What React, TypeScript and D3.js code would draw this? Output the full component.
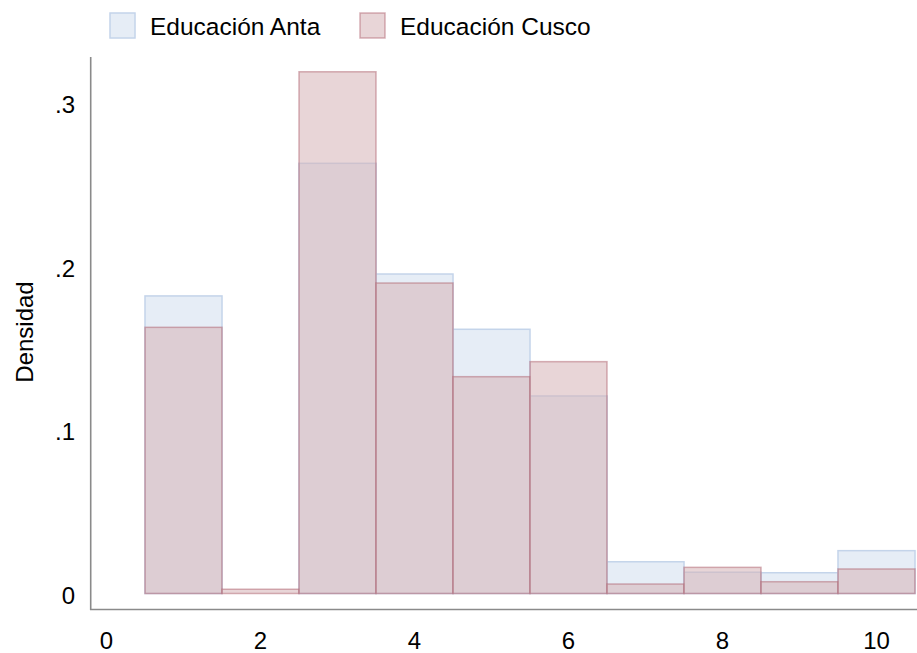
import React from "react";
import * as d3 from "d3";

const categories = [1, 2, 3, 4, 5, 6, 7, 8, 9, 10];
const antaValues = [0.182, 0, 0.2631, 0.1954, 0.1616, 0.1208, 0.0194, 0.013, 0.0127, 0.0262];
const cuscoValues = [0.1628, 0.0026, 0.3191, 0.1899, 0.1326, 0.1418, 0.0058, 0.016, 0.0072, 0.015];
const xTicks = [0, 2, 4, 6, 8, 10];
const yTicks = [0, 0.1, 0.2, 0.3];
const yTickLabels = ["0", ".1", ".2", ".3"];
const seriesNames = ["Educación Anta", "Educación Cusco"];

const W = 917;
const H = 653;
const FONT = "'Liberation Sans', Arial, sans-serif";

export default function App() {
  const x = d3.scaleLinear().domain([0, 10]).range([106.5, 876.5]);
  const y = d3.scaleLinear().domain([0, 0.3]).range([593.5, 103]);
  const binW = x(1) - x(0);

  const antaFill = "rgb(230,237,246)";
  const antaStroke = "rgb(196,212,234)";
  const cuscoFill = "rgba(213,178,183,0.55)";
  const cuscoStroke = "rgba(175,100,112,0.5)";

  return (
    <svg width={W} height={H} style={{ position: "absolute", left: 0, top: 0, background: "#fff" }}>
      <rect x={0} y={0} width={W} height={H} fill="#fff" />
      {categories.map((c, i) =>
        antaValues[i] > 0 ? (
          <rect
            key={"a" + c}
            x={x(c - 0.5)}
            y={y(antaValues[i])}
            width={binW}
            height={y(0) - y(antaValues[i])}
            fill={antaFill}
            stroke={antaStroke}
            strokeWidth={1.5}
          />
        ) : null
      )}
      {categories.map((c, i) => (
        <rect
          key={"c" + c}
          x={x(c - 0.5)}
          y={y(cuscoValues[i])}
          width={binW}
          height={y(0) - y(cuscoValues[i])}
          fill={cuscoFill}
          stroke={cuscoStroke}
          strokeWidth={1.5}
        />
      ))}
      <line x1={90.7} x2={90.7} y1={57} y2={610} stroke="#8a8a8a" strokeWidth={1.6} />
      <line x1={90} x2={917} y1={609.5} y2={609.5} stroke="#8a8a8a" strokeWidth={1.6} />
      {yTicks.map((t, i) => (
        <text
          key={"yt" + t}
          x={75}
          y={y(t)}
          dy="0.42em"
          textAnchor="end"
          fontFamily={FONT}
          fontSize={24}
          fill="#000"
        >
          {yTickLabels[i]}
        </text>
      ))}
      {xTicks.map((t) => (
        <text
          key={"xt" + t}
          x={x(t)}
          y={640}
          dy="0.36em"
          textAnchor="middle"
          fontFamily={FONT}
          fontSize={24}
          fill="#000"
        >
          {t}
        </text>
      ))}
      <text
        transform={`translate(24,332) rotate(-90)`}
        textAnchor="middle"
        dy="0.36em"
        fontFamily={FONT}
        fontSize={24}
        fill="#000"
      >
        Densidad
      </text>
      <rect x={110} y={13} width={25} height={25} fill={antaFill} stroke={antaStroke} strokeWidth={1.5} />
      <text x={150} y={26} dy="0.36em" fontFamily={FONT} fontSize={24.5} fill="#000">
        {seriesNames[0]}
      </text>
      <rect x={360} y={13} width={25} height={25} fill={cuscoFill} stroke={cuscoStroke} strokeWidth={1.5} />
      <text x={400} y={26} dy="0.36em" fontFamily={FONT} fontSize={24.5} fill="#000">
        {seriesNames[1]}
      </text>
    </svg>
  );
}
